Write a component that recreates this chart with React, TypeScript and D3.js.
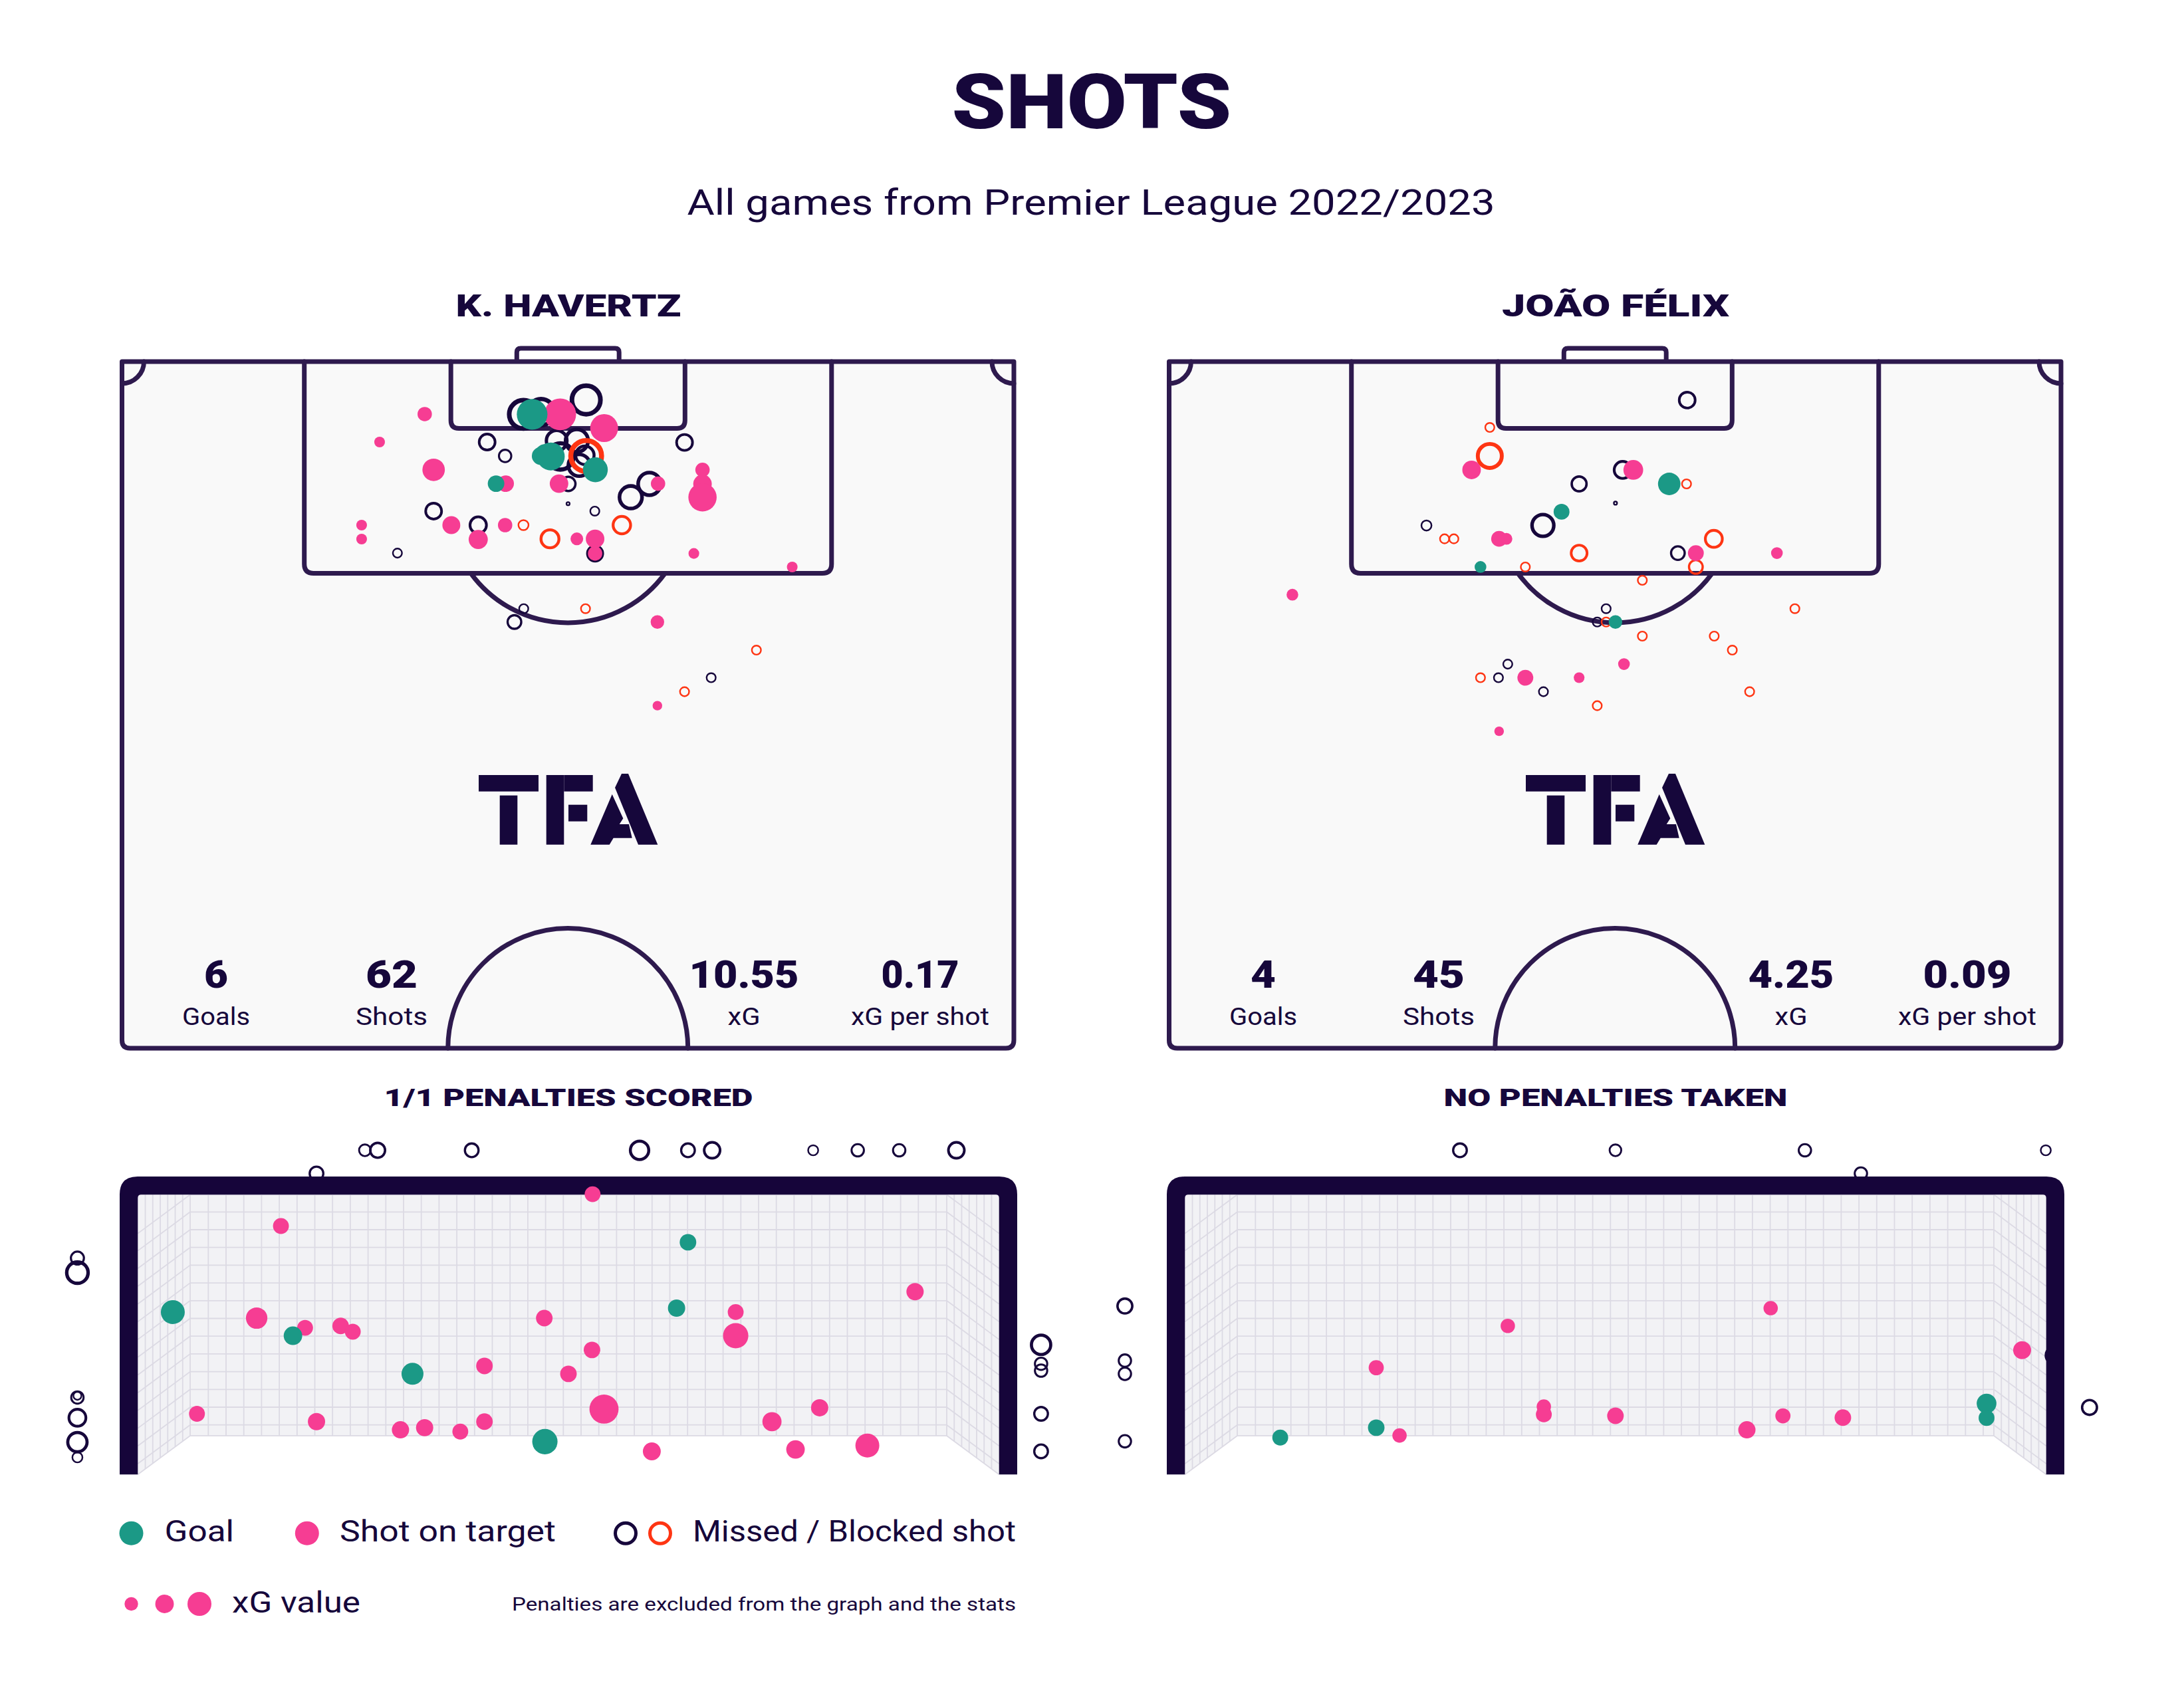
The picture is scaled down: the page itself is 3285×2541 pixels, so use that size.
import React from 'react';
import * as d3 from 'd3';

// ---------- text content ----------
const titleText = 'SHOTS';
const subtitleText = 'All games from Premier League 2022/2023';
const playerNames = ['K. HAVERTZ', 'JOÃO FÉLIX'];
const penaltyTitles = ['1/1 PENALTIES SCORED', 'NO PENALTIES TAKEN'];
const statLabels = ['Goals', 'Shots', 'xG', 'xG per shot'];
const havertzStats = ['6', '62', '10.55', '0.17'];
const felixStats = ['4', '45', '4.25', '0.09'];
const legendItems = ['Goal', 'Shot on target', 'Missed / Blocked shot'];
const legendXgValues = [0.08, 0.15, 0.25];
const legendXgLabel = 'xG value';
const footnote = 'Penalties are excluded from the graph and the stats';

// ---------- shot data ----------
// pitch shots: [metres from left touchline, metres from goal line, xG, outcome]
// outcome: G goal, S on target, M missed, B blocked
type Shot = [number, number, number, string];

const havertzShots: Shot[] = [
  [30.61, 4.11, 0.48, 'M'], [31.95, 3.94, 0.41, 'M'], [35.39, 2.99, 0.48, 'M'], [27.84, 6.27, 0.15, 'M'],
  [29.21, 7.35, 0.09, 'M'], [33.14, 6.16, 0.25, 'M'], [34.68, 6.16, 0.3, 'M'], [33.42, 7.39, 0.41, 'M'],
  [35.29, 7.3, 0.2, 'M'], [34.86, 8.08, 0.28, 'M'], [34.03, 9.53, 0.12, 'M'], [40.21, 9.53, 0.3, 'M'],
  [38.79, 10.57, 0.3, 'M'], [34.01, 11.07, 0.01, 'M'], [36.05, 11.65, 0.05, 'M'], [23.76, 11.65, 0.15, 'M'],
  [27.16, 12.74, 0.16, 'M'], [36.07, 14.95, 0.14, 'M'], [21.0, 14.92, 0.05, 'M'], [30.63, 19.25, 0.05, 'M'],
  [29.92, 20.29, 0.11, 'M'], [44.92, 24.63, 0.05, 'M'], [42.89, 6.3, 0.15, 'M'],
  [35.39, 7.35, 0.56, 'B'], [30.61, 12.74, 0.06, 'B'], [32.63, 13.81, 0.19, 'B'], [38.11, 12.74, 0.18, 'B'],
  [35.34, 19.25, 0.05, 'B'], [48.37, 22.48, 0.05, 'B'], [42.89, 25.72, 0.05, 'B'],
  [23.08, 4.09, 0.09, 'S'], [33.41, 4.11, 0.44, 'S'], [36.76, 5.18, 0.34, 'S'], [23.76, 8.43, 0.22, 'S'],
  [29.25, 9.51, 0.12, 'S'], [33.32, 9.51, 0.15, 'S'], [40.87, 9.51, 0.09, 'S'], [44.26, 8.43, 0.09, 'S'],
  [44.26, 9.53, 0.15, 'S'], [44.26, 10.57, 0.35, 'S'], [25.11, 12.74, 0.14, 'S'], [27.16, 13.86, 0.16, 'S'],
  [29.21, 12.74, 0.09, 'S'], [34.68, 13.81, 0.07, 'S'], [36.07, 13.81, 0.15, 'S'], [36.07, 14.95, 0.09, 'S'],
  [43.6, 14.95, 0.05, 'S'], [19.64, 6.27, 0.05, 'S'], [18.27, 12.74, 0.05, 'S'], [18.27, 13.83, 0.05, 'S'],
  [51.1, 16.0, 0.05, 'S'], [40.82, 20.29, 0.08, 'S'], [40.82, 26.81, 0.04, 'S'],
  [31.27, 4.11, 0.41, 'G'], [32.25, 7.2, 0.17, 'G'], [31.93, 7.35, 0.14, 'G'], [32.69, 7.39, 0.34, 'G'],
  [36.09, 8.43, 0.27, 'G'], [28.52, 9.51, 0.12, 'G'],
];

const felixShots: Shot[] = [
  [39.5, 3.0, 0.15, 'M'], [34.58, 8.44, 0.17, 'M'], [31.26, 9.53, 0.13, 'M'], [34.03, 11.03, 0.01, 'M'],
  [28.5, 12.77, 0.28, 'M'], [19.62, 12.77, 0.06, 'M'], [38.79, 14.92, 0.11, 'M'], [33.32, 19.25, 0.05, 'M'],
  [32.64, 20.29, 0.05, 'M'], [25.82, 23.57, 0.05, 'M'], [25.11, 24.63, 0.05, 'M'], [28.54, 25.72, 0.05, 'M'],
  [24.45, 5.13, 0.05, 'B'], [24.45, 7.35, 0.34, 'B'], [39.45, 9.53, 0.05, 'B'], [21.0, 13.81, 0.05, 'B'],
  [21.71, 13.81, 0.05, 'B'], [31.26, 14.92, 0.15, 'B'], [41.53, 13.81, 0.17, 'B'], [40.16, 16.0, 0.11, 'B'],
  [27.16, 16.0, 0.05, 'B'], [36.08, 17.04, 0.05, 'B'], [47.71, 19.25, 0.05, 'B'], [33.32, 20.29, 0.05, 'B'],
  [36.08, 21.39, 0.05, 'B'], [41.56, 21.39, 0.05, 'B'], [42.94, 22.48, 0.05, 'B'], [23.74, 24.63, 0.05, 'B'],
  [44.26, 25.72, 0.05, 'B'], [32.64, 26.81, 0.05, 'B'],
  [23.06, 8.44, 0.15, 'S'], [35.39, 8.44, 0.17, 'S'], [25.16, 13.81, 0.11, 'S'], [25.72, 13.81, 0.06, 'S'],
  [40.16, 14.92, 0.11, 'S'], [46.34, 14.92, 0.06, 'S'], [9.4, 18.16, 0.06, 'S'], [34.68, 23.57, 0.06, 'S'],
  [27.16, 24.63, 0.11, 'S'], [31.26, 24.63, 0.05, 'S'], [25.16, 28.8, 0.04, 'S'],
  [38.13, 9.53, 0.22, 'G'], [29.92, 11.7, 0.11, 'G'], [23.74, 16.0, 0.06, 'G'], [34.03, 20.29, 0.08, 'G'],
];

// goal-mouth view: [metres from left post, height in metres, xG, outcome]
const havertzGoalMouth: Shot[] = [
  [1.966, 2.738, 0.08, 'M'], [2.072, 2.738, 0.13, 'M'], [2.855, 2.738, 0.11, 'M'], [4.252, 2.738, 0.2, 'M'],
  [4.655, 2.738, 0.11, 'M'], [4.856, 2.738, 0.15, 'M'], [5.697, 2.738, 0.06, 'M'], [6.068, 2.738, 0.09, 'M'],
  [6.413, 2.738, 0.09, 'M'], [6.889, 2.738, 0.15, 'M'], [1.563, 2.542, 0.11, 'M'],
  [-0.427, 1.827, 0.1, 'M'], [-0.427, 1.704, 0.27, 'M'], [-0.427, 0.649, 0.09, 'M'], [-0.427, 0.663, 0.04, 'M'],
  [-0.427, 0.478, 0.17, 'M'], [-0.427, 0.272, 0.22, 'M'], [-0.427, 0.143, 0.06, 'M'],
  [7.594, 1.094, 0.22, 'M'], [7.594, 0.934, 0.09, 'M'], [7.594, 0.876, 0.09, 'M'], [7.594, 0.511, 0.11, 'M'],
  [7.594, 0.194, 0.11, 'M'],
  [3.861, 2.367, 0.11, 'S'], [1.267, 2.098, 0.11, 'S'], [6.545, 1.543, 0.13, 'S'], [1.065, 1.32, 0.2, 'S'],
  [5.052, 1.371, 0.11, 'S'], [3.459, 1.32, 0.12, 'S'], [1.468, 1.238, 0.11, 'S'], [1.764, 1.254, 0.12, 'S'],
  [1.865, 1.205, 0.11, 'S'], [5.052, 1.171, 0.28, 'S'], [3.856, 1.051, 0.12, 'S'], [2.961, 0.916, 0.12, 'S'],
  [3.66, 0.849, 0.12, 'S'], [3.956, 0.551, 0.37, 'S'], [5.751, 0.562, 0.13, 'S'], [0.568, 0.511, 0.11, 'S'],
  [1.563, 0.445, 0.13, 'S'], [2.262, 0.376, 0.13, 'S'], [2.463, 0.394, 0.13, 'S'], [2.76, 0.361, 0.11, 'S'],
  [2.961, 0.445, 0.12, 'S'], [5.354, 0.445, 0.16, 'S'], [4.354, 0.194, 0.14, 'S'], [5.55, 0.21, 0.15, 'S'],
  [6.148, 0.243, 0.25, 'S'],
  [4.655, 1.961, 0.12, 'G'], [0.367, 1.371, 0.25, 'G'], [4.56, 1.404, 0.13, 'G'], [1.367, 1.171, 0.15, 'G'],
  [2.362, 0.849, 0.21, 'G'], [3.464, 0.276, 0.28, 'G'],
];

const felixGoalMouth: Shot[] = [
  [2.365, 2.738, 0.11, 'M'], [3.659, 2.738, 0.08, 'M'], [5.236, 2.738, 0.09, 'M'], [7.241, 2.738, 0.06, 'M'],
  [5.702, 2.542, 0.09, 'M'], [-0.424, 1.422, 0.13, 'M'], [-0.424, 0.961, 0.09, 'M'], [-0.424, 0.849, 0.09, 'M'],
  [-0.424, 0.279, 0.09, 'M'], [7.605, 0.565, 0.13, 'M'], [7.313, 1.006, 0.17, 'M'],
  [2.763, 1.254, 0.09, 'S'], [4.951, 1.404, 0.09, 'S'], [1.668, 0.901, 0.1, 'S'], [7.044, 1.049, 0.14, 'S'],
  [3.063, 0.572, 0.09, 'S'], [3.063, 0.506, 0.11, 'S'], [3.659, 0.494, 0.12, 'S'], [4.753, 0.376, 0.13, 'S'],
  [5.053, 0.494, 0.1, 'S'], [5.552, 0.479, 0.12, 'S'], [1.862, 0.328, 0.09, 'S'],
  [0.869, 0.31, 0.11, 'G'], [1.668, 0.394, 0.12, 'G'], [6.748, 0.598, 0.17, 'G'], [6.748, 0.476, 0.11, 'G'],
];

// ---------- styling / layout ----------
const W = 3285;
const H = 2541;
const FONT = "Roboto, 'Liberation Sans', Arial, sans-serif";
const COL = {
  text: '#16073b',
  line: '#2e1a4e',
  frame: '#16053a',
  pitch: '#f9f9f9',
  net: '#f2f2f5',
  netLine: '#dcdae4',
  G: '#1b9986',
  S: '#f63d93',
  M: '#16073b',
  B: '#fe3513',
};
const ORDER: Record<string, number> = { M: 0, B: 1, S: 2, G: 3 };
const PANEL_DX = [0, 1575];
const NAME_W = [339, 342];
const PEN_W = [555, 517];
const STAT_X = [325, 589, 1119, 1384];
const STAT_NUM_W = [[36, 78, 165, 117], [38, 78, 129, 133]];
const STAT_LABEL_W = [102, 108, 49, 208];

const PITCH = { width: 68, half: 53.5, penW: 40.2, penD: 16.5, sixW: 17.85, sixD: 5.2, goalW: 7.8, spot: 11, arcR: 9.15 };

const px = d3.scaleLinear().domain([0, PITCH.width]).range([183.5, 1525]);
const py = d3.scaleLinear().domain([0, PITCH.half]).range([544, 1577]);
const rScale = d3.scaleSqrt().domain([0, 1]).range([0, 36]);
const gxScale = d3.scaleLinear().domain([0, 7.32]).range([193.6, 1516.4]);
const gzScale = d3.scaleLinear().domain([0, 2.44]).range([2218, 1783.6]);

function Marker({ cx, cy, xg, o }: { cx: number; cy: number; xg: number; o: string }) {
  const r = rScale(xg);
  if (o === 'G' || o === 'S') return <circle cx={cx} cy={cy} r={r} fill={COL[o as 'G']} />;
  const sw = Math.max(2.4, r * 0.28);
  return <circle cx={cx} cy={cy} r={Math.max(0.8, r - sw / 2)} fill="none" stroke={COL[o as 'M']} strokeWidth={sw} />;
}

function sorted(s: Shot[]) {
  return s.map((d, i) => ({ d, i })).sort((a, b) => ORDER[a.d[3]] - ORDER[b.d[3]] || a.i - b.i).map((e) => e.d);
}

function Pitch({ shots }: { shots: Shot[] }) {
  const cx = px(PITCH.width / 2);
  const x0 = px(0), x1 = px(PITCH.width), y0 = py(0), y1 = py(PITCH.half);
  const R = px(PITCH.arcR) - px(0);
  const box = (w: number, d: number, rad: number) => {
    const a = px(PITCH.width / 2 - w / 2), b = px(PITCH.width / 2 + w / 2), yb = py(d);
    return `M${a},${y0} V${yb - rad} Q${a},${yb} ${a + rad},${yb} H${b - rad} Q${b},${yb} ${b},${yb - rad} V${y0}`;
  };
  const spotY = py(PITCH.spot);
  const penY = py(PITCH.penD);
  const hx = Math.sqrt(R * R - (penY - spotY) ** 2);
  const g0 = px(PITCH.width / 2 - PITCH.goalW / 2), g1 = px(PITCH.width / 2 + PITCH.goalW / 2);
  const ls = { fill: 'none', stroke: COL.line, strokeWidth: 7, strokeLinejoin: 'round' as const, strokeLinecap: 'round' as const };
  return (
    <g>
      <path d={`M${g0},${y0} V${y0 - 14} Q${g0},${y0 - 20} ${g0 + 6},${y0 - 20} H${g1 - 6} Q${g1},${y0 - 20} ${g1},${y0 - 14} V${y0}`} {...ls} />
      <path
        d={`M${x0},${y0} H${x1} V${y1 - 12} Q${x1},${y1} ${x1 - 12},${y1} H${x0 + 12} Q${x0},${y1} ${x0},${y1 - 12} Z`}
        {...ls}
        fill={COL.pitch}
      />
      <path d={box(PITCH.penW, PITCH.penD, 14)} {...ls} />
      <path d={box(PITCH.sixW, PITCH.sixD, 12)} {...ls} />
      <path d={`M${cx - hx},${penY} A${R},${R} 0 0 0 ${cx + hx},${penY}`} {...ls} />
      <path d={`M${cx - R},${y1} A${R},${R} 0 0 1 ${cx + R},${y1}`} {...ls} />
      <path d={`M${x0},${y0 + 33} A33,33 0 0 0 ${x0 + 33},${y0}`} {...ls} />
      <path d={`M${x1 - 33},${y0} A33,33 0 0 0 ${x1},${y0 + 33}`} {...ls} />
      <Logo />
      {sorted(shots).map((s, i) => (
        <Marker key={i} cx={px(s[0])} cy={py(s[1])} xg={s[2]} o={s[3]} />
      ))}
    </g>
  );
}

function Logo() {
  return (
    <g transform="translate(700,1140)" fill={COL.text}>
      <rect x={20} y={26} width={90} height={24.7} />
      <rect x={51.7} y={56.7} width={26.6} height={74} />
      <rect x={121.7} y={26} width={26.6} height={104.7} />
      <rect x={148.3} y={26} width={43.4} height={24.7} />
      <rect x={155} y={70.7} width={28.3} height={25} />
      <polygon points="235,24 245,24 289.3,130.7 260,130.7 225,45" />
      <polygon points="220.7,55 237.3,91.3 231.7,100 246,100 250.7,120.7 222.7,120.7 216.7,130.7 188.3,130.7" />
    </g>
  );
}

function GoalView({ shots }: { shots: Shot[] }) {
  const fx0 = 207.3, fx1 = 1502.7, top = 1797.3, fBottom = 2218.3;
  const bx0 = 286, bx1 = 1424, bBottom = 2160, cell = 26.7;
  const dx = bx0 - fx0, dy = fBottom - bBottom;
  const mir = (x: number) => fx0 + fx1 - x;
  const vLines: number[] = [];
  for (let x = bx0 + 27.3; x < bx1 - 3; x += cell) vLines.push(x);
  const hLines: number[] = [];
  for (let y = top + 26; y < bBottom - 3; y += cell) hLines.push(y);
  const sideV = d3.range(1, 7).map((k) => fx0 + (k * dx) / 7);
  const lineStyle = { stroke: COL.netLine, strokeWidth: 1.8 };
  const outside = sorted(shots).filter((s) => s[3] === 'M' || s[3] === 'B');
  const inside = sorted(shots).filter((s) => s[3] === 'G' || s[3] === 'S');
  return (
    <g>
      <rect x={bx0} y={top} width={bx1 - bx0} height={bBottom - top} fill={COL.net} />
      <polygon points={`${fx0},${top} ${bx0},${top} ${bx0},${bBottom} ${fx0},${fBottom}`} fill={COL.net} />
      <polygon points={`${mir(fx0)},${top} ${mir(bx0)},${top} ${mir(bx0)},${bBottom} ${mir(fx0)},${fBottom}`} fill={COL.net} />
      {vLines.map((x, i) => (
        <line key={'v' + i} x1={x} x2={x} y1={top} y2={bBottom} {...lineStyle} />
      ))}
      {hLines.map((y, i) => (
        <line key={'h' + i} x1={bx0} x2={bx1} y1={y} y2={y} {...lineStyle} />
      ))}
      <rect x={bx0} y={top} width={bx1 - bx0} height={bBottom - top} fill="none" {...lineStyle} />
      {sideV.map((x, i) => {
        const yb = fBottom - (x - fx0) * (dy / dx);
        return (
          <g key={'sv' + i}>
            <line x1={x} x2={x} y1={top} y2={yb} {...lineStyle} />
            <line x1={mir(x)} x2={mir(x)} y1={top} y2={yb} {...lineStyle} />
          </g>
        );
      })}
      {[top, ...hLines, bBottom].map((y, i) => (
        <g key={'d' + i}>
          <line x1={bx0} y1={y} x2={fx0} y2={y + dy} {...lineStyle} />
          <line x1={mir(bx0)} y1={y} x2={mir(fx0)} y2={y + dy} {...lineStyle} />
        </g>
      ))}
      {outside.map((s, i) => (
        <Marker key={'o' + i} cx={gxScale(s[0])} cy={gzScale(s[1])} xg={s[2]} o={s[3]} />
      ))}
      <path
        d={`M180,${fBottom} V1797 Q180,1770 207,1770 H1503 Q1530,1770 1530,1797 V${fBottom} H${fx1} V${top + 5} Q${fx1},${top} ${fx1 - 5},${top} H${fx0 + 5} Q${fx0},${top} ${fx0},${top + 5} V${fBottom} Z`}
        fill={COL.frame}
      />
      {inside.map((s, i) => (
        <Marker key={'i' + i} cx={gxScale(s[0])} cy={gzScale(s[1])} xg={s[2]} o={s[3]} />
      ))}
    </g>
  );
}

function Panel({ idx }: { idx: number }) {
  const stats = idx === 0 ? havertzStats : felixStats;
  const shots = idx === 0 ? havertzShots : felixShots;
  const mouth = idx === 0 ? havertzGoalMouth : felixGoalMouth;
  return (
    <g transform={`translate(${PANEL_DX[idx]},0)`}>
      <text x={855} y={476} textAnchor="middle" fontFamily={FONT} fontWeight={900} fontSize={46} fill={COL.text}
        textLength={NAME_W[idx]} lengthAdjust="spacingAndGlyphs">
        {playerNames[idx]}
      </text>
      <Pitch shots={shots} />
      {stats.map((s, i) => (
        <g key={i}>
          <text x={STAT_X[i]} y={1486} textAnchor="middle" fontFamily={FONT} fontWeight={900} fontSize={58} fill={COL.text}
            textLength={STAT_NUM_W[idx][i]} lengthAdjust="spacingAndGlyphs">
            {s}
          </text>
          <text x={STAT_X[i]} y={1542} textAnchor="middle" fontFamily={FONT} fontWeight={400} fontSize={37} fill={COL.text}
            textLength={STAT_LABEL_W[i]} lengthAdjust="spacingAndGlyphs">
            {statLabels[i]}
          </text>
        </g>
      ))}
      <text x={855} y={1664} textAnchor="middle" fontFamily={FONT} fontWeight={900} fontSize={37} fill={COL.text}
        textLength={PEN_W[idx]} lengthAdjust="spacingAndGlyphs">
        {penaltyTitles[idx]}
      </text>
      <GoalView shots={mouth} />
    </g>
  );
}

function Legend() {
  const y1 = 2306.7;
  const ringSw = 5;
  const t = { fontFamily: FONT, fontSize: 44, fill: COL.text, lengthAdjust: 'spacingAndGlyphs' as const };
  return (
    <g>
      <circle cx={197.5} cy={y1} r={18} fill={COL.G} />
      <text x={247.5} y={2319} {...t} textLength={104.5}>{legendItems[0]}</text>
      <circle cx={461.8} cy={y1} r={18} fill={COL.S} />
      <text x={511} y={2319} {...t} textLength={325}>{legendItems[1]}</text>
      <circle cx={941} cy={y1} r={18 - ringSw / 2} fill="none" stroke={COL.M} strokeWidth={ringSw} />
      <circle cx={993} cy={y1} r={18 - ringSw / 2} fill="none" stroke={COL.B} strokeWidth={ringSw} />
      <text x={1042} y={2319} {...t} textLength={486}>{legendItems[2]}</text>
      {legendXgValues.map((v, i) => (
        <circle key={i} cx={[197.5, 247.5, 300][i]} cy={2413} r={rScale(v)} fill={COL.S} />
      ))}
      <text x={349} y={2426} {...t} textLength={193}>{legendXgLabel}</text>
      <text x={770} y={2423} fontFamily={FONT} fontSize={28} fill={COL.text} textLength={758} lengthAdjust="spacingAndGlyphs">
        {footnote}
      </text>
    </g>
  );
}

export default function App() {
  return (
    <svg width={W} height={H} viewBox={`0 0 ${W} ${H}`} style={{ position: 'absolute', left: 0, top: 0, display: 'block', background: '#ffffff' }}>
      <rect x={0} y={0} width={W} height={H} fill="#ffffff" />
      <text x={1642} y={193} textAnchor="middle" fontFamily={FONT} fontWeight={900} fontSize={115} fill={COL.text}
        textLength={421} lengthAdjust="spacingAndGlyphs">
        {titleText}
      </text>
      <text x={1641} y={323} textAnchor="middle" fontFamily={FONT} fontWeight={400} fontSize={53} fill={COL.text}
        textLength={1215} lengthAdjust="spacingAndGlyphs">
        {subtitleText}
      </text>
      <Panel idx={0} />
      <Panel idx={1} />
      <Legend />
    </svg>
  );
}
